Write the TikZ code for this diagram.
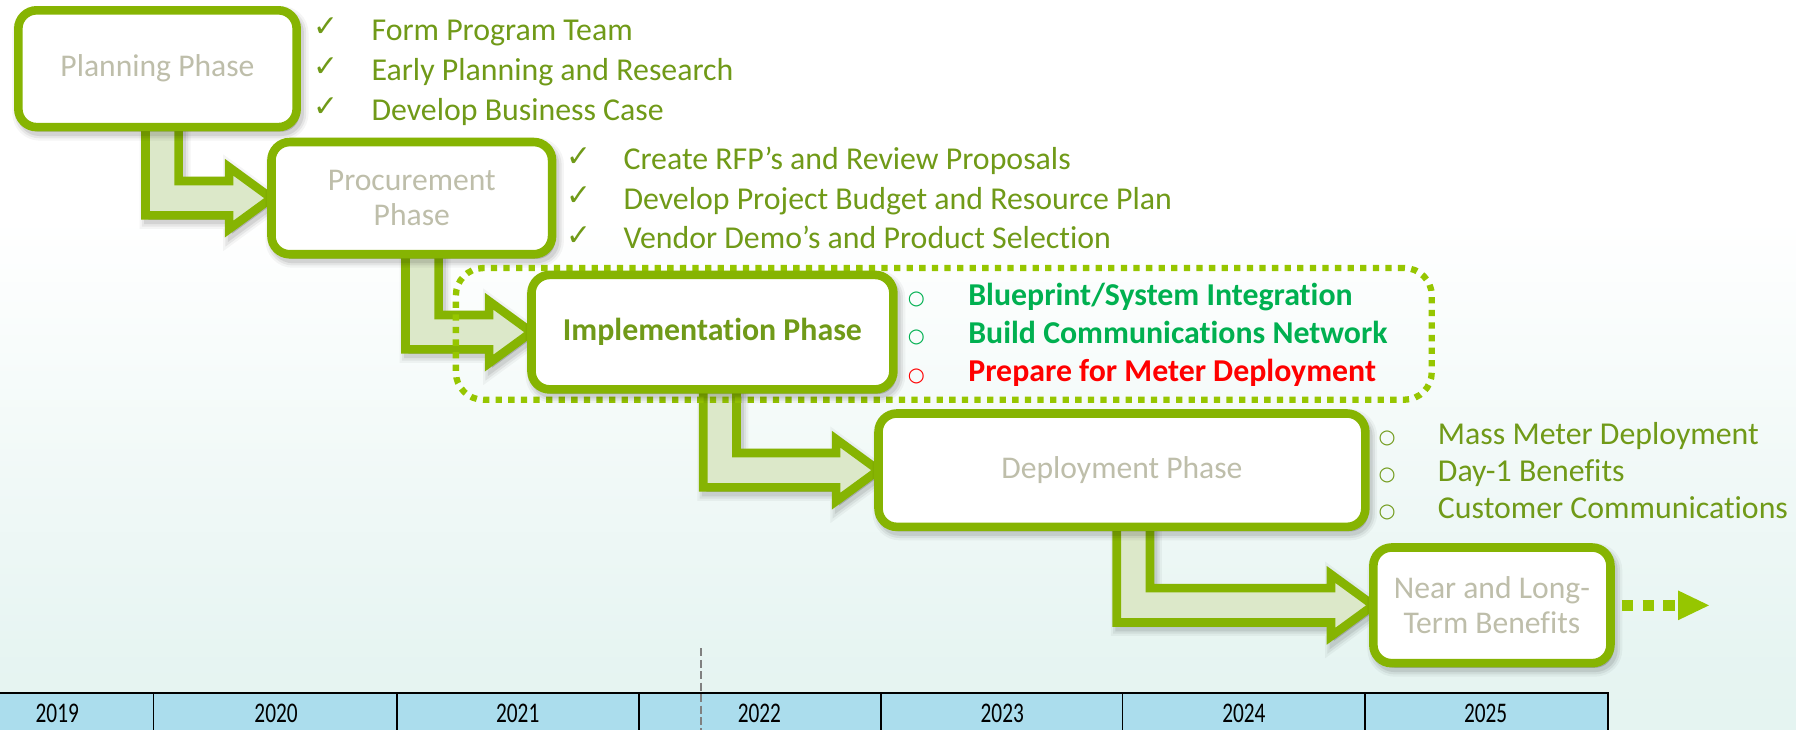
\documentclass[tikz,border=0pt]{standalone}
\usepackage{graphicx}
\usepackage{fontspec}
\setmainfont{Carlito}[Ligatures=NoCommon]
\newfontfamily\symfont{DejaVu Sans}
\usetikzlibrary{calc}
\definecolor{boxgreen}{RGB}{134,180,2}
\definecolor{dotgreen}{RGB}{150,198,0}
\definecolor{arrowfill}{RGB}{220,232,201}
\definecolor{olivetext}{RGB}{112,154,24}
\definecolor{brightgreen}{RGB}{0,176,80}
\definecolor{phasegray}{RGB}{190,190,170}
\definecolor{tablefill}{RGB}{171,221,237}
\definecolor{bgbottom}{RGB}{220,240,236}
\pgfdeclareverticalshading{bgshade}{100bp}{color(0bp)=(bgbottom); color(30bp)=(bgbottom!70!white); color(60bp)=(white); color(100bp)=(white)}
\pgfdeclarelayer{bglayer}
\pgfdeclarelayer{arrowlayer}
\pgfsetlayers{bglayer,arrowlayer,main}

\tikzset{
 softshadow/.style={
   preaction={draw=black, fill=black, opacity=0.04, line width=#1+4pt, transform canvas={xshift=1.3pt, yshift=-2pt}},
   preaction={draw=black, fill=black, opacity=0.06, line width=#1+2pt, transform canvas={xshift=1.3pt, yshift=-2pt}},
   preaction={draw=black, fill=black, opacity=0.08, line width=#1, transform canvas={xshift=1.3pt, yshift=-2pt}}},
 phasebox/.style={draw=boxgreen, line width=3.75pt, fill=white, rounded corners=8pt, outer sep=0pt, inner sep=0pt, align=center, text=phasegray, font=\fontsize{13.8}{15.25}\selectfont, softshadow=3.75pt},
 bigarrow/.style={draw=boxgreen, fill=arrowfill, line width=3.75pt, line join=miter, softshadow=3.75pt},
 itemtext/.style={anchor=base west, inner sep=0pt, font=\fontsize{13.9}{16}\selectfont, text=olivetext},
 boldtext/.style={itemtext, font=\bfseries\fontsize{13.9}{16}\selectfont},
 checksym/.style={anchor=base west, inner sep=0pt, font=\symfont\fontsize{13}{15}\selectfont, text=olivetext, yshift=1.5pt},
 bulletsym/.style={anchor=base, inner sep=0pt, font=\symfont\fontsize{8.5}{10}\selectfont, yshift=0.3pt},
 dotbox/.style={draw=dotgreen, line width=2.75pt, dash pattern=on 2.75pt off 2.75pt, rounded corners=12pt, inner sep=0pt, outer sep=0pt},
 yeartext/.style={inner sep=0pt, font=\fontsize{12.4}{14}\selectfont, text=black},
}

\newcommand{\bentarrow}[3]{%
 \coordinate (aL) at (#3,0);
 \coordinate (aR) at (#3+29,0);
 \coordinate (sbot) at ($(#2.west)+(-37,15)$);
 \coordinate (stop) at ($(#2.west)+(-37,-15)$);
 \coordinate (hbot) at ($(#2.west)+(-37,27)$);
 \coordinate (htop) at ($(#2.west)+(-37,-27)$);
 \filldraw[bigarrow] (aL |- #1.center) -- (aL |- sbot) -- (sbot) -- (hbot) -- (#2.west) -- (htop) -- (stop) -- (aR |- stop) -- (aR |- #1.center) -- cycle;
}

\begin{document}
\begin{tikzpicture}[x=0.5pt, y=-0.5pt]
\useasboundingbox (0,0) rectangle (1568,637);
\begin{pgfonlayer}{bglayer}
\fill[shading=bgshade] (0,0) rectangle (1568,637);
\end{pgfonlayer}

% phase boxes
\node[phasebox, minimum width=121.5pt, minimum height=51pt] (plan) at (137.5,60) {Planning Phase};
\node[phasebox, minimum width=122.5pt, minimum height=49pt] (proc) at (359.5,173) {Procurement\\Phase};
\node[dotbox, minimum width=426pt, minimum height=57.5pt] (implgroup) at (824,291.5) {};
\node[phasebox, minimum width=158pt, minimum height=50pt, text=olivetext, font=\bfseries\fontsize{13.9}{16}\selectfont] (impl) at (622,290) {Implementation Phase};
\node[phasebox, minimum width=212.5pt, minimum height=49.5pt] (depl) at (979.5,410.5) {Deployment Phase};
\node[phasebox, minimum width=103.5pt, minimum height=50.5pt] (near) at (1302.5,528.5) {Near and Long-\\Term Benefits};

% bent arrows
\begin{pgfonlayer}{arrowlayer}
\bentarrow{plan}{proc}{127}
\bentarrow{proc}{impl}{354}
\bentarrow{impl}{depl}{614}
\bentarrow{depl}{near}{975}
\end{pgfonlayer}

% dotted arrow after last phase
\coordinate (fstart) at ($(near.east)+(10,0)$);
\coordinate (fend) at ($(near.east)+(56,0)$);
\coordinate (ftip) at ($(near.east)+(86,0)$);
\draw[dotgreen, line width=4.75pt, dash pattern=on 5pt off 4pt] (fstart) -- (fend);
\fill[dotgreen] ($(near.east)+(59,-13)$) -- (ftip) -- ($(near.east)+(59,13)$) -- cycle;

% planning list
\node[checksym] (c11) at (273,35) {✓};
\node[itemtext] (t11) at (324,35) {Form Program Team};
\node[checksym] (c12) at (273,70) {✓};
\node[itemtext] (t12) at (324,70) {Early Planning and Research};
\node[checksym] (c13) at (273,105) {✓};
\node[itemtext] (t13) at (324,105) {Develop Business Case};

% procurement list
\node[checksym] (c21) at (494,148) {✓};
\node[itemtext] (t21) at (544,148) {Create RFP’s and Review Proposals};
\node[checksym] (c22) at (494,182.5) {✓};
\node[itemtext] (t22) at (544,182.5) {Develop Project Budget and Resource Plan};
\node[checksym] (c23) at (494,217) {✓};
\node[itemtext] (t23) at (544,217) {Vendor Demo’s and Product Selection};

% implementation list
\node[bulletsym, text=brightgreen] (b31) at (800,266.5) {○};
\node[boldtext, text=brightgreen] (t31) at (845,266.5) {Blueprint/System Integration};
\node[bulletsym, text=brightgreen] (b32) at (800,300) {○};
\node[boldtext, text=brightgreen] (t32) at (845,300) {Build Communications Network};
\node[bulletsym, text=red] (b33) at (800,333.5) {○};
\node[boldtext, text=red] (t33) at (845,333.5) {Prepare for Meter Deployment};

% deployment list
\node[bulletsym, text=olivetext] (b41) at (1211,388) {○};
\node[itemtext] (t41) at (1255,388) {Mass Meter Deployment};
\node[bulletsym, text=olivetext] (b42) at (1211,420) {○};
\node[itemtext] (t42) at (1255,420) {Day-1 Benefits};
\node[bulletsym, text=olivetext] (b43) at (1211,452.5) {○};
\node[itemtext] (t43) at (1255,452.5) {Customer Communications};

% timeline table
\draw[fill=tablefill, line width=0.85pt] (-20,605) rectangle (1404,660);
\foreach \xx in {134,347,558,769,980,1192} {\draw[line width=0.85pt] (\xx,605) -- (\xx,660);}
\node[yeartext] (y2019) at (50,623) {\scalebox{0.75}[1]{2019}};
\node[yeartext] (y2020) at (241,623) {\scalebox{0.75}[1]{2020}};
\node[yeartext] (y2021) at (452,623) {\scalebox{0.75}[1]{2021}};
\node[yeartext] (y2022) at (663,623) {\scalebox{0.75}[1]{2022}};
\node[yeartext] (y2023) at (875,623) {\scalebox{0.75}[1]{2023}};
\node[yeartext] (y2024) at (1086,623) {\scalebox{0.75}[1]{2024}};
\node[yeartext] (y2025) at (1297,623) {\scalebox{0.75}[1]{2025}};
\draw[gray, line width=0.9pt, dash pattern=on 3.5pt off 1.5pt] (612,566) -- (612,645);
\end{tikzpicture}
\end{document}
